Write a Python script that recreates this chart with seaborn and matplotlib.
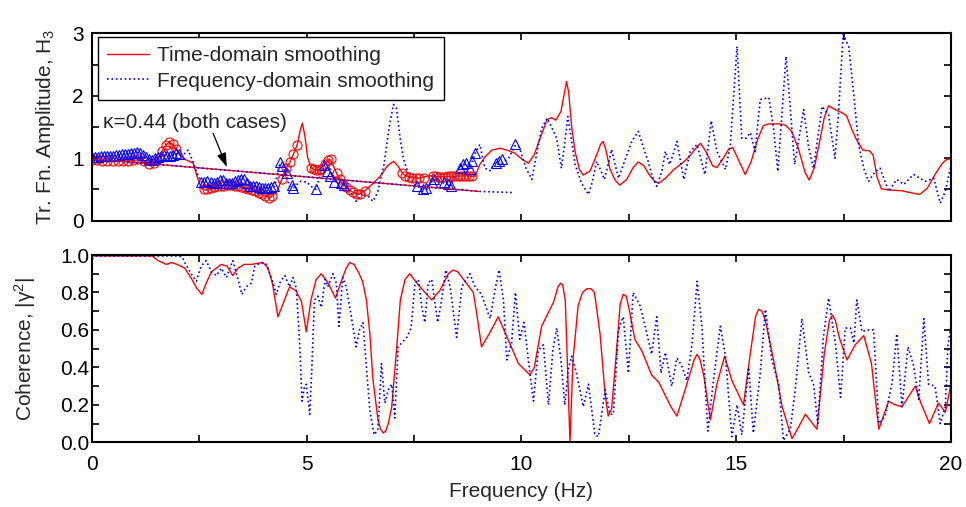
import matplotlib
matplotlib.use("Agg")
import matplotlib.pyplot as plt
from matplotlib.ticker import MultipleLocator, FormatStrFormatter
from matplotlib.lines import Line2D
import seaborn as sns

# ---- top panel: transfer function amplitude ----
td_freq = [0.0, 0.3, 0.6, 0.9, 1.15, 1.34, 1.5, 1.62, 1.72, 1.8, 1.88, 1.96, 2.08, 2.2, 2.36, 2.45,
           2.55, 2.65, 2.82, 3.0, 3.21, 3.4, 3.6, 3.8, 3.95, 4.14, 4.3, 4.42, 4.52, 4.61, 4.7, 4.78,
           4.85, 4.9, 4.96, 5.02, 5.1, 5.2, 5.3, 5.42, 5.53, 5.62, 5.72, 5.82, 5.95, 6.06, 6.2, 6.35,
           6.55, 6.72, 6.88, 7.02, 7.12, 7.25, 7.4, 7.6, 7.85, 8.1, 8.4, 8.7, 8.92, 9.03, 9.15, 9.31,
           9.5, 9.7, 9.85, 10.02, 10.16, 10.3, 10.45, 10.6, 10.7, 10.8, 10.92, 11.0, 11.05, 11.1,
           11.17, 11.25, 11.35, 11.44, 11.6, 11.75, 11.84, 11.9, 11.96, 12.06, 12.18, 12.29, 12.45,
           12.6, 12.72, 12.85, 12.98, 13.1, 13.2, 13.35, 13.55, 13.74, 13.9, 14.05, 14.17, 14.3,
           14.45, 14.55, 14.7, 14.83, 14.92, 15.05, 15.21, 15.35, 15.5, 15.63, 15.75, 16.0, 16.15,
           16.3, 16.45, 16.6, 16.7, 16.82, 16.95, 17.05, 17.15, 17.3, 17.46, 17.57, 17.7, 17.8,
           17.95, 18.1, 18.19, 18.28, 18.38, 18.6, 18.85, 19.05, 19.27, 19.45, 19.63, 19.8, 19.9, 20.0]
td_amp = [0.97, 0.96, 0.95, 0.96, 0.98, 0.90, 0.95, 1.10, 1.21, 1.26, 1.22, 1.14, 1.03, 0.97, 0.92, 0.70,
          0.52, 0.49, 0.54, 0.56, 0.57, 0.55, 0.52, 0.47, 0.42, 0.37, 0.46, 0.66, 0.84, 0.94, 1.08, 1.22,
          1.45, 1.56, 1.35, 1.02, 0.85, 0.81, 0.82, 0.90, 0.99, 0.88, 0.72, 0.60, 0.52, 0.46, 0.42, 0.48,
          0.60, 0.72, 0.88, 0.95, 0.88, 0.74, 0.70, 0.68, 0.72, 0.70, 0.71, 0.72, 0.71, 0.90, 1.02, 1.13,
          1.16, 1.12, 1.08, 0.98, 0.92, 1.06, 1.35, 1.62, 1.65, 1.61, 1.75, 2.05, 2.23, 2.05,
          1.50, 1.10, 0.82, 0.73, 0.80, 1.05, 1.22, 1.27, 1.15, 0.83, 0.65, 0.57, 0.66,
          0.85, 0.94, 0.88, 0.73, 0.63, 0.60, 0.68, 0.82, 0.92, 1.02, 1.15, 1.24, 1.10,
          0.88, 0.85, 1.00, 1.15, 1.17, 0.98, 0.74, 0.95, 1.30, 1.52, 1.55, 1.55, 1.53,
          1.42, 1.15, 0.78, 0.65, 0.85, 1.29, 1.65, 1.84, 1.78, 1.73, 1.68, 1.45, 1.30,
          1.13, 1.12, 1.05, 0.70, 0.51, 0.49, 0.48, 0.45, 0.42, 0.52, 0.74, 0.92, 0.98, 0.99]

fd_freq = [0.0, 0.3, 0.6, 0.9, 1.07, 1.25, 1.38, 1.55, 1.7, 1.85, 2.0, 2.12, 2.24, 2.35, 2.45, 2.55,
           2.7, 2.85, 3.0, 3.15, 3.3, 3.5, 3.65, 3.8, 3.95, 4.1, 4.25, 4.37, 4.45, 4.52, 4.6, 4.7,
           4.85, 5.0, 5.1, 5.22, 5.32, 5.42, 5.52, 5.65, 5.8, 5.95, 6.05, 6.15, 6.3, 6.42, 6.54,
           6.65, 6.8, 6.92, 7.02, 7.09, 7.17, 7.25, 7.4, 7.56, 7.7, 7.79, 7.95, 8.1, 8.22, 8.34,
           8.45, 8.57, 8.7, 8.84, 8.92, 9.03, 9.15, 9.27, 9.4, 9.54, 9.7, 9.85, 9.95, 10.1, 10.24,
           10.35, 10.47, 10.6, 10.7, 10.82, 10.93, 11.0, 11.08, 11.15, 11.25, 11.4, 11.56, 11.65,
           11.75, 11.85, 11.93, 12.02, 12.1, 12.18, 12.26, 12.4, 12.57, 12.72, 12.85, 12.95, 13.05,
           13.15, 13.27, 13.35, 13.45, 13.53, 13.62, 13.78, 13.93, 14.09, 14.27, 14.42, 14.55,
           14.75, 14.86, 15.02, 15.13, 15.23, 15.33, 15.44, 15.56, 15.76, 15.87, 15.97, 16.16,
           16.26, 16.36, 16.57, 16.69, 16.8, 17.0, 17.15, 17.3, 17.38, 17.49, 17.62, 17.74, 17.85,
           17.97, 18.08, 18.24, 18.35, 18.55, 18.74, 18.9, 19.13, 19.4, 19.6, 19.75, 19.87, 19.98, 20.0]
fd_amp = [1.02, 1.03, 1.05, 1.07, 1.10, 1.03, 0.97, 1.02, 1.05, 1.03, 1.08, 1.05, 1.13, 0.95, 0.75, 0.62,
          0.63, 0.60, 0.66, 0.60, 0.62, 0.68, 0.56, 0.55, 0.52, 0.53, 0.55, 0.90, 0.88, 0.72, 0.55, 0.53,
          0.63, 0.62, 0.55, 0.50, 0.75, 0.90, 0.88, 0.63, 0.58, 0.55, 0.42, 0.31, 0.44, 0.40, 0.31,
          0.45, 0.90, 1.50, 1.86, 1.80, 1.35, 1.00, 0.68, 0.55, 0.52, 0.50, 0.66, 0.62, 0.60, 0.55,
          0.72, 0.87, 0.90, 0.92, 1.08, 1.22, 0.84, 0.80, 0.95, 0.92, 1.00, 1.20, 1.18, 0.85, 0.66,
          1.05, 1.48, 1.64, 1.50, 1.32, 0.84, 1.20, 1.67, 1.35, 0.90, 0.60, 0.42, 0.62,
          0.95, 0.80, 0.66, 0.90, 1.14, 0.90, 0.68, 0.95, 1.27, 1.43, 1.15, 0.95, 0.70,
          0.55, 0.79, 1.11, 0.90, 1.06, 1.27, 0.66, 1.11, 1.22, 0.74, 1.60, 1.11,
          0.82, 1.19, 2.79, 1.32, 1.32, 1.41, 1.11, 1.94, 1.97, 1.48, 0.79, 2.63,
          1.80, 0.90, 1.78, 1.16, 0.84, 1.83, 1.70, 1.00, 1.70, 2.98, 2.79, 2.00, 1.22,
          0.84, 0.63, 0.79, 0.84, 0.47, 0.66, 0.58, 0.74, 0.63, 0.68, 0.28, 0.47, 0.82, 0.85]

# points picked for the kappa fit (open symbols)
td_pick_freq = [0.0, 0.12, 0.24, 0.36, 0.48, 0.6, 0.72, 0.84, 0.96, 1.08, 1.2, 1.32, 1.44,
                1.56, 1.64, 1.72, 1.8, 1.88, 1.96,
                2.6, 2.68, 2.76, 2.84, 2.92, 3.0, 3.08, 3.16, 3.24, 3.32, 3.4, 3.48, 3.56, 3.64,
                3.72, 3.8, 3.88, 3.96, 4.04, 4.12, 4.2,
                4.42, 4.52, 4.61, 4.68, 4.77,
                5.1, 5.16, 5.22, 5.28, 5.34, 5.42, 5.5, 5.56,
                5.7, 5.77, 5.85, 5.92, 6.0, 6.08, 6.16, 6.24, 6.35,
                7.22, 7.3, 7.38, 7.46, 7.54, 7.62, 7.72,
                7.95, 8.02, 8.09, 8.16, 8.23, 8.3, 8.37, 8.44, 8.51, 8.58, 8.65, 8.72, 8.79, 8.86]
td_pick_amp = [0.97, 0.97, 0.96, 0.96, 0.95, 0.95, 0.96, 0.96, 0.97, 0.98, 0.95, 0.91, 0.93,
               1.00, 1.12, 1.21, 1.26, 1.22, 1.14,
               0.50, 0.50, 0.52, 0.54, 0.55, 0.56, 0.56, 0.57, 0.57, 0.56, 0.55, 0.54, 0.53, 0.51,
               0.49, 0.47, 0.44, 0.42, 0.39, 0.37, 0.39,
               0.66, 0.84, 0.94, 1.06, 1.21,
               0.85, 0.82, 0.81, 0.81, 0.83, 0.90, 0.97, 0.98,
               0.76, 0.66, 0.58, 0.54, 0.49, 0.46, 0.43, 0.43, 0.48,
               0.76, 0.72, 0.70, 0.69, 0.68, 0.68, 0.69,
               0.71, 0.71, 0.70, 0.70, 0.70, 0.71, 0.71, 0.71, 0.72, 0.72, 0.72, 0.72, 0.71, 0.71]

fd_pick_freq = [0.0, 0.07, 0.14, 0.21, 0.28, 0.35, 0.42, 0.49, 0.56, 0.63, 0.7, 0.77, 0.84, 0.91, 0.98,
                1.05, 1.12, 1.19, 1.26, 1.33, 1.4, 1.47, 1.54, 1.61, 1.68, 1.75, 1.82, 1.89, 1.96, 2.03,
                2.55, 2.62, 2.69, 2.76, 2.83, 2.9, 2.97, 3.04, 3.11, 3.18, 3.25, 3.32, 3.39, 3.46, 3.53,
                3.6, 3.67, 3.74, 3.81, 3.88, 3.95, 4.02, 4.09, 4.16, 4.23,
                4.38, 4.42, 4.53, 4.65, 4.69, 5.22, 5.4, 5.47, 5.55, 5.63, 5.8, 5.88,
                7.57, 7.7, 7.77, 7.92, 7.97, 8.2, 8.28, 8.36,
                8.57, 8.64, 8.72, 8.8, 8.84, 8.92, 9.4, 9.47, 9.55, 9.85]
fd_pick_amp = [1.02, 1.02, 1.02, 1.03, 1.03, 1.03, 1.04, 1.04, 1.05, 1.05, 1.06, 1.06, 1.07, 1.08, 1.09,
               1.10, 1.08, 1.05, 1.02, 0.98, 0.97, 1.00, 1.02, 1.04, 1.05, 1.04, 1.03, 1.05, 1.08, 1.07,
               0.62, 0.62, 0.63, 0.62, 0.60, 0.62, 0.65, 0.65, 0.61, 0.60, 0.61, 0.63, 0.65, 0.67, 0.66,
               0.60, 0.56, 0.55, 0.55, 0.54, 0.52, 0.53, 0.53, 0.54, 0.55,
               0.94, 0.87, 0.76, 0.57, 0.53, 0.50, 0.89, 0.79, 0.71, 0.62, 0.60, 0.57,
               0.55, 0.50, 0.52, 0.62, 0.66, 0.62, 0.58, 0.55,
               0.85, 0.90, 0.92, 0.82, 0.95, 1.08, 0.92, 0.95, 0.98, 1.22]

# fitted kappa lines
td_fit_freq = [0.0, 9.0]
td_fit_amp = [0.99, 0.47]
fd_fit_freq = [0.0, 9.0, 9.8]
fd_fit_amp = [0.99, 0.47, 0.45]

# ---- bottom panel: coherence ----
coh_td_freq = [0.0, 1.0, 1.4, 1.54, 1.73, 1.85, 1.98, 2.16, 2.3, 2.45, 2.56, 2.66, 2.78, 3.01, 3.15,
               3.28, 3.4, 3.55, 3.71, 3.98, 4.1, 4.2, 4.33, 4.45, 4.6, 4.75, 4.88, 4.99, 5.1, 5.22,
               5.34, 5.5, 5.67, 5.82, 5.92, 6.0, 6.1, 6.2, 6.3, 6.39, 6.47, 6.54, 6.66, 6.72, 6.78,
               6.84, 6.9, 6.98, 7.09, 7.18, 7.29, 7.4, 7.6, 7.91, 8.1, 8.3, 8.41, 8.52, 8.65, 8.88,
               8.97, 9.07, 9.25, 9.46, 9.65, 9.93, 10.2, 10.3, 10.47, 10.6, 10.75, 10.85, 10.91,
               10.96, 11.02, 11.06, 11.13, 11.2, 11.32, 11.42, 11.52, 11.62, 11.7, 11.83, 11.95, 12.02,
               12.1, 12.2, 12.3, 12.37, 12.44, 12.5, 12.64, 12.8, 13.03, 13.2, 13.48, 13.62, 13.85,
               14.02, 14.09, 14.16, 14.25, 14.4, 14.55, 14.73, 14.9, 15.17, 15.32, 15.45, 15.52,
               15.6, 15.68, 15.87, 16.07, 16.3, 16.45, 16.61, 16.88, 17.05, 17.17, 17.24, 17.31,
               17.4, 17.58, 17.77, 17.97, 18.15, 18.32, 18.55, 18.7, 18.86, 19.17, 19.3, 19.5,
               19.71, 19.87, 20.0]
coh_td = [0.995, 0.995, 0.995, 0.97, 0.95, 0.96, 0.95, 0.93, 0.88, 0.82, 0.79, 0.85, 0.91, 0.95, 0.94,
          0.89, 0.93, 0.95, 0.95, 0.96, 0.93, 0.85, 0.67, 0.74, 0.83, 0.81, 0.75, 0.59, 0.76, 0.87,
          0.90, 0.85, 0.77, 0.87, 0.93, 0.96, 0.95, 0.91, 0.86, 0.76, 0.58, 0.34, 0.12, 0.07, 0.05,
          0.06, 0.10, 0.19, 0.49, 0.76, 0.87, 0.90, 0.84, 0.76, 0.81, 0.90, 0.92, 0.91, 0.87, 0.80,
          0.67, 0.51, 0.58, 0.67, 0.57, 0.42, 0.36, 0.40, 0.62, 0.68, 0.75, 0.83, 0.85,
          0.84, 0.76, 0.49, 0.00, 0.44, 0.73, 0.80, 0.82, 0.82, 0.80, 0.58, 0.25, 0.14,
          0.18, 0.45, 0.74, 0.79, 0.78, 0.72, 0.55, 0.49, 0.36, 0.32, 0.19, 0.14, 0.31,
          0.44, 0.47, 0.44, 0.35, 0.12, 0.31, 0.46, 0.33, 0.20, 0.46, 0.67, 0.71,
          0.70, 0.65, 0.44, 0.19, 0.02, 0.08, 0.15, 0.07, 0.47, 0.65, 0.68, 0.65,
          0.56, 0.44, 0.52, 0.57, 0.42, 0.07, 0.22, 0.20, 0.19, 0.30, 0.21, 0.10,
          0.21, 0.16, 0.31]

coh_fd_freq = [0.0, 0.1, 2.0, 2.1, 2.16, 2.31, 2.43, 2.54, 2.66, 2.78, 2.9, 3.01, 3.13, 3.28, 3.4, 3.49,
               3.59, 3.71, 3.79, 3.94, 4.06, 4.22, 4.29, 4.39, 4.49, 4.6, 4.68, 4.76, 4.84, 4.89, 4.95,
               4.99, 5.07, 5.12, 5.18, 5.26, 5.34, 5.43, 5.49, 5.61, 5.69, 5.75, 5.84, 5.92, 6.04, 6.15,
               6.23, 6.31, 6.39, 6.47, 6.57, 6.66, 6.74, 6.82, 6.9, 6.98, 7.05, 7.13, 7.21, 7.33, 7.43,
               7.52, 7.6, 7.68, 7.75, 7.83, 7.91, 8.05, 8.14, 8.24, 8.34, 8.49, 8.61, 8.8, 8.92, 9.07,
               9.27, 9.38, 9.48, 9.58, 9.66, 9.77, 9.86, 9.96, 10.06, 10.16, 10.28, 10.39, 10.51, 10.63,
               10.73, 10.82, 10.92, 11.01, 11.09, 11.17, 11.28, 11.44, 11.56, 11.71, 11.79, 11.95,
               12.06, 12.14, 12.26, 12.37, 12.49, 12.6, 12.76, 12.88, 13.03, 13.15, 13.25, 13.35,
               13.5, 13.62, 13.73, 13.85, 13.97, 14.09, 14.2, 14.34, 14.47, 14.63, 14.75, 14.9, 15.02,
               15.13, 15.29, 15.4, 15.56, 15.68, 15.83, 15.99, 16.1, 16.26, 16.37, 16.53, 16.69, 16.8,
               16.9, 17.03, 17.15, 17.31, 17.43, 17.54, 17.66, 17.74, 17.81, 17.93, 18.04, 18.2, 18.32,
               18.47, 18.63, 18.74, 18.86, 19.0, 19.13, 19.25, 19.37, 19.48, 19.63, 19.75, 19.87,
               19.93, 20.0]
coh_fd = [0.98, 0.995, 0.995, 0.99, 0.96, 0.90, 0.86, 0.94, 0.97, 0.91, 0.89, 0.93, 0.88, 0.97, 0.87, 0.79,
          0.83, 0.85, 0.94, 0.96, 0.95, 0.85, 0.79, 0.86, 0.89, 0.83, 0.88, 0.82, 0.51, 0.22, 0.30,
          0.31, 0.15, 0.40, 0.76, 0.78, 0.72, 0.87, 0.83, 0.90, 0.85, 0.62, 0.88, 0.83, 0.67, 0.51,
          0.60, 0.64, 0.40, 0.17, 0.04, 0.07, 0.42, 0.21, 0.28, 0.31, 0.13, 0.51, 0.53, 0.56, 0.61,
          0.85, 0.87, 0.72, 0.64, 0.85, 0.87, 0.64, 0.76, 0.92, 0.83, 0.56, 0.83, 0.90, 0.83, 0.79,
          0.66, 0.81, 0.92, 0.76, 0.44, 0.53, 0.80, 0.55, 0.64, 0.44, 0.22, 0.49, 0.52, 0.20,
          0.49, 0.61, 0.44, 0.20, 0.39, 0.46, 0.37, 0.19, 0.31, 0.04, 0.03, 0.28,
          0.15, 0.15, 0.60, 0.67, 0.37, 0.80, 0.73, 0.62, 0.47, 0.67, 0.37, 0.48,
          0.30, 0.45, 0.41, 0.33, 0.52, 0.86, 0.62, 0.06, 0.33, 0.62, 0.46, 0.03, 0.20,
          0.04, 0.40, 0.05, 0.37, 0.71, 0.44, 0.31, 0.01, 0.07, 0.27, 0.66, 0.37, 0.31,
          0.10, 0.56, 0.77, 0.53, 0.24, 0.61, 0.61, 0.53, 0.76, 0.59, 0.60, 0.60, 0.10,
          0.14, 0.32, 0.58, 0.19, 0.51, 0.41, 0.23, 0.66, 0.31, 0.30, 0.10, 0.19,
          0.52, 0.62]

RED = "#ff0000"
BLUE = "#0000ff"

sns.set_style("ticks")
plt.rcParams["font.family"] = ["Liberation Sans", "DejaVu Sans"]
plt.rcParams["mathtext.default"] = "regular"
plt.rcParams["font.size"] = 15

fig = plt.figure(figsize=(9.66, 5.07), dpi=100)
ax1 = fig.add_axes([0.0952, 0.5647, 0.8892, 0.3696])
ax2 = fig.add_axes([0.0952, 0.1276, 0.8892, 0.3694])

# top panel
sns.lineplot(x=td_freq, y=td_amp, ax=ax1, color=RED, lw=1.0, sort=False, estimator=None)
sns.lineplot(x=fd_freq, y=fd_amp, ax=ax1, color=BLUE, lw=1.2, linestyle=":", sort=False, estimator=None)
ax1.plot(td_pick_freq, td_pick_amp, "o", ms=6.5, mfc="none", mec=RED, mew=0.8)
ax1.plot(fd_pick_freq, fd_pick_amp, "^", ms=7, mfc="none", mec=BLUE, mew=0.8)
ax1.plot(td_fit_freq, td_fit_amp, color=RED, lw=1.0)
ax1.plot(fd_fit_freq, fd_fit_amp, color=BLUE, lw=1.2, linestyle=":")

ax1.text(0.26, 1.58, "\u03ba=0.44 (both cases)", ha="left", va="center", fontsize=15)
ax1.annotate("", xy=(3.14, 0.86), xytext=(2.82, 1.40),
             arrowprops=dict(arrowstyle="-|>,head_length=0.6,head_width=0.2", color="black",
                             lw=0.9, shrinkA=0, shrinkB=0, mutation_scale=14))

handles = [Line2D([], [], color=RED, lw=1.0), Line2D([], [], color=BLUE, lw=1.2, linestyle=":")]
leg = ax1.legend(handles, ["Time-domain smoothing", "Frequency-domain smoothing"],
                 loc="upper left", bbox_to_anchor=(0.007, 0.98), fontsize=15, frameon=True,
                 fancybox=False, edgecolor="black", framealpha=1, handlelength=2.0,
                 handletextpad=0.4, labelspacing=0.3, borderpad=0.45, borderaxespad=0)
leg.get_frame().set_linewidth(1.0)

ax1.set_xlim(0, 20)
ax1.set_ylim(0, 3)
ax1.set_ylabel("Tr. Fn. Amplitude, H$_3$", fontsize=15)
ax1.yaxis.set_label_coords(-0.041, 0.5)
ax1.yaxis.set_major_locator(MultipleLocator(1))
ax1.yaxis.set_minor_locator(MultipleLocator(0.5))
ax1.tick_params(axis="x", labelbottom=False)
ax1.tick_params(axis="y", pad=6)

# bottom panel
sns.lineplot(x=coh_td_freq, y=coh_td, ax=ax2, color=RED, lw=1.0, sort=False, estimator=None)
sns.lineplot(x=coh_fd_freq, y=coh_fd, ax=ax2, color=BLUE, lw=1.2, linestyle=":", sort=False, estimator=None)
ax2.set_xlim(0, 20)
ax2.set_ylim(0, 1)
ax2.set_xlabel("Frequency (Hz)", fontsize=15, labelpad=6)
ax2.set_ylabel("Coherence, $|\\gamma^2|$", fontsize=15)
ax2.yaxis.set_label_coords(-0.063, 0.5)
ax2.yaxis.set_major_locator(MultipleLocator(0.2))
ax2.yaxis.set_minor_locator(MultipleLocator(0.1))
ax2.yaxis.set_major_formatter(FormatStrFormatter("%.1f"))
ax2.tick_params(axis="y", pad=2)
ax2.tick_params(axis="x", pad=9)

for ax in (ax1, ax2):
    ax.xaxis.set_major_locator(MultipleLocator(5))
    ax.xaxis.set_minor_locator(MultipleLocator(2.5))
    ax.tick_params(which="both", direction="in", top=True, right=True, length=5, width=1.2,
                   labelsize=15, colors="black")
    for s in ax.spines.values():
        s.set_linewidth(1.5)
        s.set_color("black")

fig.savefig("out.png", dpi=100)
